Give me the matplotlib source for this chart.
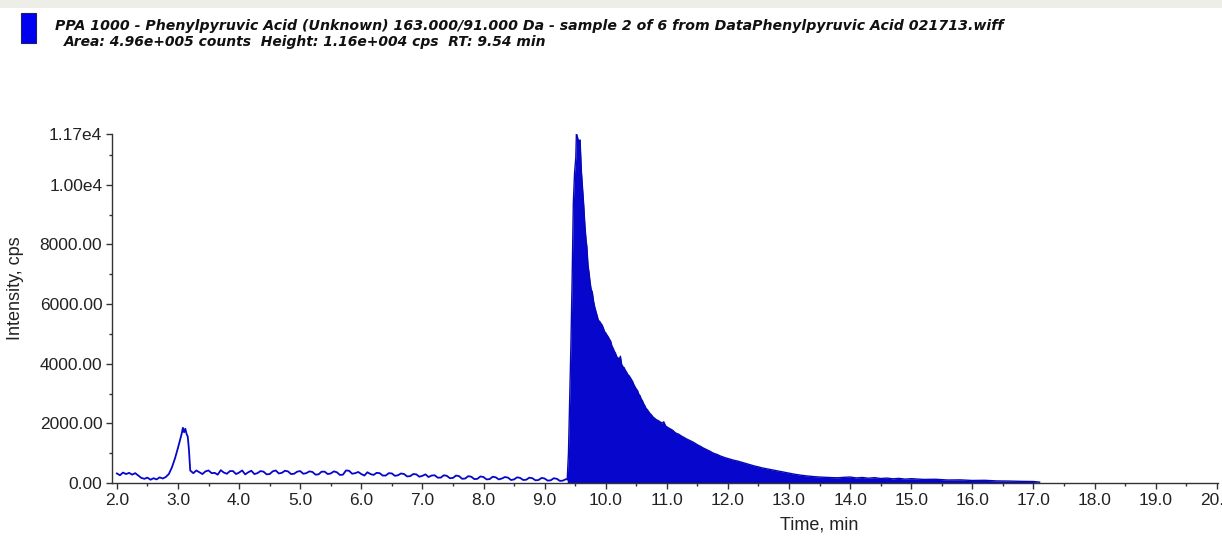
import matplotlib
matplotlib.use("Agg")
import matplotlib.pyplot as plt
import matplotlib.ticker as mticker
from matplotlib.patches import Rectangle

W, H = 1222, 537

TITLE_1 = ("PPA 1000 - Phenylpyruvic Acid (Unknown) 163.000/91.000 Da - sample 2 of 6 "
           "from DataPhenylpyruvic Acid 021713.wiff")
TITLE_2 = "Area: 4.96e+005 counts  Height: 1.16e+004 cps  RT: 9.54 min"

# baseline trace (line only), time in min / intensity in cps
base_time = [2.00, 2.05, 2.10, 2.15, 2.20, 2.25, 2.30, 2.35, 2.40, 2.45, 2.50, 2.55,
             2.60, 2.65, 2.70, 2.75, 2.80, 2.85, 2.90, 2.95, 3.00, 3.03, 3.06, 3.08,
             3.10, 3.12, 3.14, 3.16, 3.18,
             3.20, 3.25, 3.30, 3.35, 3.40, 3.45, 3.50, 3.55, 3.60, 3.65, 3.70, 3.75,
             3.80, 3.85, 3.90, 3.95, 4.00, 4.05, 4.10, 4.15, 4.20, 4.25, 4.30, 4.35,
             4.40, 4.45, 4.50, 4.55, 4.60, 4.65, 4.70, 4.75, 4.80, 4.85, 4.90, 4.95,
             5.00, 5.05, 5.10, 5.15, 5.20, 5.25, 5.30, 5.35, 5.40, 5.45, 5.50, 5.55,
             5.60, 5.65, 5.70, 5.75, 5.80, 5.85, 5.90, 5.95, 6.00, 6.05, 6.10, 6.15,
             6.20, 6.25, 6.30, 6.35, 6.40, 6.45, 6.50, 6.55, 6.60, 6.65, 6.70, 6.75,
             6.80, 6.85, 6.90, 6.95, 7.00, 7.05, 7.10, 7.15, 7.20, 7.25, 7.30, 7.35,
             7.40, 7.45, 7.50, 7.55, 7.60, 7.65, 7.70, 7.75, 7.80, 7.85, 7.90, 7.95,
             8.00, 8.05, 8.10, 8.15, 8.20, 8.25, 8.30, 8.35, 8.40, 8.45, 8.50, 8.55,
             8.60, 8.65, 8.70, 8.75, 8.80, 8.85, 8.90, 8.95, 9.00, 9.05, 9.10, 9.15,
             9.20, 9.25, 9.30, 9.35, 9.37]
base_signal = [320, 260, 350, 300, 340, 280, 330, 250, 170, 140, 180, 110,
               160, 120, 190, 150, 200, 300, 520, 820, 1180, 1420, 1650, 1850,
               1700, 1820, 1650, 1550, 1100,
               420, 330, 420, 360, 300, 390, 420, 330, 340, 280, 430, 350,
               310, 400, 400, 300, 350, 420, 290, 360, 410, 300, 330, 400,
               380, 290, 300, 390, 420, 320, 340, 410, 390, 300, 310, 380,
               400, 310, 330, 390, 370, 280, 290, 380, 380, 300, 320, 390,
               360, 270, 280, 420, 410, 310, 330, 370, 300, 250, 360, 300,
               270, 340, 330, 250, 250, 330, 320, 240, 260, 320, 300, 220,
               230, 300, 290, 210, 240, 290, 200, 250, 260, 180, 180, 260,
               240, 160, 170, 250, 230, 140, 150, 230, 210, 130, 140, 220,
               200, 120, 130, 210, 190, 120, 150, 200, 180, 100, 120, 190,
               170, 100, 110, 180, 160, 90, 100, 170, 150, 80, 90, 160,
               140, 70, 80, 130, 120]

# integrated peak (filled)
peak_time = [9.37, 9.38, 9.39, 9.41, 9.43, 9.45, 9.47, 9.49, 9.51, 9.52, 9.53, 9.55,
             9.57, 9.58, 9.59, 9.60, 9.62, 9.64, 9.66, 9.68, 9.69, 9.71, 9.73, 9.74,
             9.76, 9.78, 9.80, 9.82, 9.84, 9.86, 9.88, 9.90, 9.92, 9.94, 9.96, 9.98,
             10.00, 10.02, 10.04, 10.06, 10.08, 10.10, 10.12, 10.14, 10.16, 10.18,
             10.20, 10.22, 10.24, 10.26, 10.28, 10.30, 10.32, 10.34, 10.36, 10.38,
             10.40, 10.42, 10.44, 10.46, 10.48, 10.50, 10.52, 10.54, 10.56, 10.58,
             10.60, 10.62, 10.64, 10.66, 10.68, 10.70, 10.72, 10.74, 10.76, 10.78,
             10.80, 10.83, 10.86, 10.89, 10.92, 10.95, 10.98, 11.01, 11.04, 11.07,
             11.10, 11.13, 11.16, 11.19, 11.22, 11.25, 11.28, 11.31, 11.34, 11.37,
             11.40, 11.43, 11.47, 11.51, 11.55, 11.59, 11.63, 11.67, 11.71, 11.75,
             11.79, 11.83, 11.87, 11.91, 11.95, 12.00, 12.05, 12.10, 12.15, 12.20,
             12.25, 12.30, 12.35, 12.40, 12.45, 12.50, 12.55, 12.60, 12.65, 12.70,
             12.75, 12.80, 12.85, 12.90, 12.95, 13.00, 13.10, 13.20, 13.30, 13.40,
             13.50, 13.60, 13.70, 13.80, 13.90, 14.00, 14.10, 14.20, 14.30, 14.40,
             14.50, 14.60, 14.70, 14.80, 14.90, 15.00, 15.20, 15.40, 15.60, 15.80,
             16.00, 16.20, 16.40, 16.60, 16.80, 17.00, 17.10]
peak_signal = [120, 600, 1000, 2800, 4600, 6800, 9400, 10400, 10900, 11700, 11650, 11500,
               11450, 11500, 11000, 10500, 9900, 9300, 8600, 8100, 7950, 7300, 7000, 6800,
               6500, 6400, 6100, 5900, 5750, 5600, 5450, 5420, 5350, 5300, 5200, 5080,
               5030, 4960, 4900, 4820, 4760, 4600, 4520, 4420, 4350, 4230,
               4200, 4130, 4250, 3980, 3900, 3870, 3780, 3720, 3640, 3600,
               3540, 3470, 3400, 3300, 3220, 3150, 3100, 2980, 2930, 2820,
               2760, 2660, 2590, 2500, 2460, 2400, 2340, 2300, 2250, 2200,
               2170, 2120, 2090, 2050, 2010, 2050, 1910, 1870, 1830, 1800,
               1760, 1700, 1660, 1640, 1600, 1560, 1530, 1490, 1460, 1430,
               1400, 1370, 1320, 1270, 1230, 1180, 1140, 1100, 1060, 1010,
               980, 950, 910, 880, 850, 820, 790, 760, 740, 710,
               680, 650, 620, 590, 560, 540, 510, 490, 470, 450,
               430, 410, 390, 370, 350, 330, 290, 260, 235, 215,
               200, 190, 180, 175, 190, 200, 170, 185, 160, 180,
               150, 165, 140, 155, 130, 145, 120, 125, 100, 105,
               85, 90, 70, 65, 55, 50, 30]

x_ticks = [2.0, 3.0, 4.0, 5.0, 6.0, 7.0, 8.0, 9.0, 10.0, 11.0, 12.0, 13.0, 14.0,
           15.0, 16.0, 17.0, 18.0, 19.0, 20.0]
y_ticks = [0, 2000, 4000, 6000, 8000, 10000, 11700]
y_tick_labels = ["0.00", "2000.00", "4000.00", "6000.00", "8000.00", "1.00e4", "1.17e4"]

BLUE = "#0606CC"

plt.rcParams["font.family"] = ["Liberation Sans", "DejaVu Sans"]

fig = plt.figure(figsize=(W / 100, H / 100), dpi=100, facecolor="white")

# faint strip across the top edge
fig.patches.append(Rectangle((0, 1 - 8 / H), 1, 8 / H, transform=fig.transFigure,
                             facecolor="#EEEEE8", edgecolor="none", zorder=0))
# legend swatch
fig.patches.append(Rectangle((21 / W, 1 - 43 / H), 15 / W, 30 / H, transform=fig.transFigure,
                             facecolor="#0000F0", edgecolor="#202060", linewidth=0.8))
fig.text(55 / W, 1 - 30 / H, TITLE_1, fontsize=10.2, fontweight="bold", fontstyle="oblique",
         family=["DejaVu Sans"], va="baseline", ha="left", color="#111111")
fig.text(64 / W, 1 - 46 / H, TITLE_2, fontsize=10, fontweight="bold", fontstyle="oblique",
         family=["DejaVu Sans"], va="baseline", ha="left", color="#111111")

ax = fig.add_axes([112 / W, 1 - 483 / H, (1218 - 112) / W, (483 - 134) / H])
ax.plot(base_time, base_signal, color=BLUE, linewidth=1.3)
ax.fill_between(peak_time, peak_signal, 0, color=BLUE, linewidth=0)
ax.plot(peak_time, peak_signal, color="#0808B4", linewidth=1.0)

ax.set_xlim(1.92, 20.02)
ax.set_ylim(0, 11700)

for s in ["top", "right"]:
    ax.spines[s].set_visible(False)
for s in ["left", "bottom"]:
    ax.spines[s].set_color("#333333")
    ax.spines[s].set_linewidth(1.0)

ax.set_xticks(x_ticks)
ax.set_xticklabels([f"{v:.1f}" for v in x_ticks])
ax.xaxis.set_minor_locator(mticker.MultipleLocator(0.5))
ax.set_yticks(y_ticks)
ax.set_yticklabels(y_tick_labels)
ax.yaxis.set_minor_locator(mticker.FixedLocator([1000, 3000, 5000, 7000, 9000, 11000]))

ax.tick_params(axis="both", which="major", length=4, width=1, color="#333333",
               labelsize=12.5, labelcolor="#222222", pad=3)
ax.tick_params(axis="both", which="minor", length=2, width=1, color="#333333")

fig.text(16 / W, 1 - 288 / H, "Intensity, cps", rotation=90, fontsize=13, color="#222222",
         ha="center", va="center")
fig.text(819 / W, 1 - 525 / H, "Time, min", fontsize=13, color="#222222",
         ha="center", va="center")

fig.savefig("out.png", dpi=100, facecolor="white")
